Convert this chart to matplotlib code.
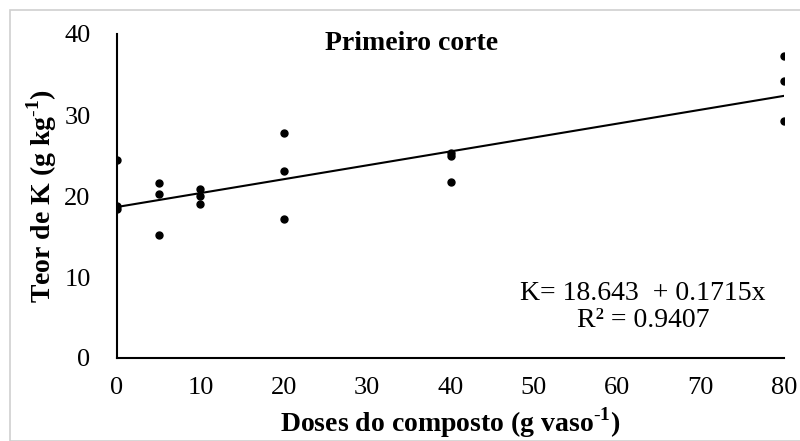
import matplotlib.pyplot as plt
import numpy as np
from matplotlib.patches import Rectangle

plt.rcParams['font.family'] = ['Liberation Serif', 'DejaVu Serif']
plt.rcParams['mathtext.fontset'] = 'custom'
plt.rcParams['mathtext.rm'] = 'Liberation Serif'
plt.rcParams['mathtext.bf'] = 'Liberation Serif:bold'

# Data
doses = [0, 0, 0, 5, 5, 5, 10, 10, 10, 20, 20, 20, 40, 40, 40, 80, 80, 80]
teor_k = [18.4, 18.8, 24.5, 21.6, 20.2, 15.2, 20.9, 20.0, 19.0,
          27.8, 23.1, 17.2, 25.3, 24.9, 21.7, 37.3, 34.2, 29.3]

# Trendline coefficients (from the equation in the chart)
intercept = 18.643
slope = 0.1715
r2 = 0.9407

fig = plt.figure(figsize=(8, 4.41), dpi=100)
ax = fig.add_axes([117 / 800, 1 - 358 / 441, (784 - 117) / 800, (358 - 34) / 441])

# light frame around the chart area
fig.patches.append(Rectangle((10 / 800, 0), 1, 1 - 10 / 441, transform=fig.transFigure,
                             fill=False, edgecolor='#d0d0d0', linewidth=1.2))

ax.plot(doses, teor_k, 'o', color='black', markersize=5, zorder=3)
xs = np.array([0, 80])
ax.plot(xs, intercept + slope * xs, '-', color='black', linewidth=1.5)

ax.set_xlim(0, 80)
ax.set_ylim(0, 40)
ax.set_xticks(range(0, 81, 10))
ax.set_yticks(range(0, 41, 10))
ax.tick_params(length=0, labelsize=19)
ax.tick_params(axis='y', pad=19)
ax.tick_params(axis='x', pad=14)
for s in ['top', 'right']:
    ax.spines[s].set_visible(False)
for s in ['left', 'bottom']:
    ax.spines[s].set_linewidth(1.5)

ax.set_xlabel(r'Doses do composto (g vaso$^{\mathbf{\text{-}1}}$)', fontsize=20,
              fontweight='bold', labelpad=4)
ax.set_ylabel(r'Teor de K (g kg$^{\mathbf{\text{-}1}}$)', fontsize=20,
              fontweight='bold', labelpad=4)

ax.text(35.3, 38.8, 'Primeiro corte', fontsize=20, fontweight='bold', ha='center', va='center')
ax.text(63.1, 6.3, 'K= %.3f  + %.4fx\nR² = %.4f' % (intercept, slope, r2),
        fontsize=20, ha='center', va='center', linespacing=1.1)

fig.savefig('out.png', dpi=100)
